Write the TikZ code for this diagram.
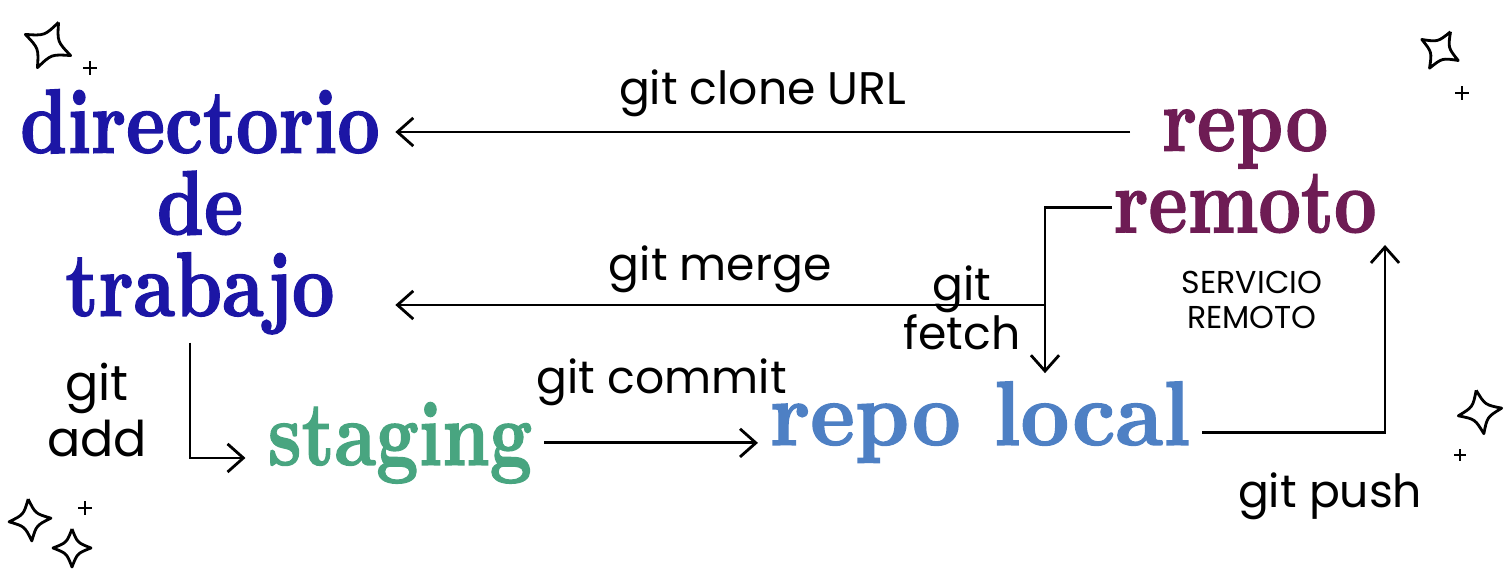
\documentclass[tikz,border=0pt]{standalone}
\usepackage{fontspec}
\newfontfamily\handfont{Poppins}
\newfontfamily\brushfont{lmroman10-bold.otf}[FakeBold=1.5]
\usetikzlibrary{arrows.meta,positioning}

\definecolor{dirblue}{RGB}{28,22,165}
\definecolor{remplum}{RGB}{110,28,84}
\definecolor{stggreen}{RGB}{72,165,128}
\definecolor{locblue}{RGB}{78,128,196}
\newcommand{\narrow}[2][.81]{\scalebox{#1}[1]{#2}}

\begin{document}
\begin{tikzpicture}[
  >={Straight Barb[length=4.5pt,width=8pt]},
  line width=0.8pt,
  brush/.style={font=\brushfont\fontsize{26}{23.2}\selectfont, inner sep=0pt, align=center},
  hand/.style={font=\handfont\fontsize{13}{15}\selectfont, inner sep=1pt, align=center},
  small/.style={font=\handfont\fontsize{9}{10}\selectfont, inner sep=1pt, align=center},
  sparkle/.pic={\draw[line join=round] (0,1) .. controls (0.28,0.28) .. (1,0)
      .. controls (0.28,-0.28) .. (0,-1) .. controls (-0.28,-0.28) .. (-1,0)
      .. controls (-0.28,0.28) .. (0,1);},
  twinkle/.pic={\draw[line width=0.6pt] (-1,0) -- (1,0) (0,-1) -- (0,1);}
]
\useasboundingbox (0,0) rectangle (15.05,5.78);

% Nodes
\node[brush, text=dirblue, anchor=north] (dir) at (2.0,4.90)
  {\narrow{directorio}\\\narrow{de}\\\narrow{trabajo}};
\node[brush, text=remplum, anchor=north] (rem) at (12.45,4.70)
  {\narrow{repo}\\\narrow{remoto}};

\node[brush, text=stggreen, anchor=base] (stg)   at (4.0,1.13) {\narrow{staging}};
\node[brush, text=locblue,  anchor=base] (local) at (9.8,1.33) {\narrow[.93]{repo local}};

\coordinate (cs) at ([shift={(0.18,-0.24)}]rem.north west);
\coordinate (fk) at (10.45,2.73);
\coordinate (pk) at (13.85,3.33);

% Arrows + labels
\draw[->] (cs) -- ([xshift=4pt]cs -| dir.east) node[hand, midway, above=3pt] {git clone URL};

\draw[->] ([yshift=0.27cm]rem.south west) -| (fk) -- ([yshift=2pt]fk |- local.north);
\draw[->] (fk) -- ([xshift=4pt]fk -| dir.east) node[hand, midway, above=2pt] {git merge};
\node[hand, font=\handfont\fontsize{13}{14}\selectfont] (fetch) at (9.62,2.70) {git\\fetch};

\draw[->] ([xshift=-0.1cm,yshift=-2pt]dir.south) |- ([xshift=-6pt,yshift=2pt]stg.base west);
\node[hand, font=\handfont\fontsize{14}{16}\selectfont] (add) at (0.97,1.68) {git\\add};

\draw[->] ([xshift=3pt]stg.east) -- ([xshift=-3pt]stg.east -| local.west)
  node[hand, pos=.55, above=9pt] {git commit};

\draw[->] ([xshift=3pt,yshift=-3pt]local.east) -| (pk)
  node[hand, pos=.35, below=10pt] {git push};
\node[small] (serv) at (12.52,2.78) {SERVICIO\\REMOTO};

% sparkles
\pic[scale=0.25, rotate=-25] at (0.48,5.33) {sparkle};
\pic[scale=0.07] at (0.90,5.10) {twinkle};
\pic[scale=0.21, rotate=-30] at (14.40,5.28) {sparkle};
\pic[scale=0.07] at (14.62,4.85) {twinkle};
\pic[scale=0.22, rotate=10] at (14.80,1.66) {sparkle};
\pic[scale=0.06] at (14.60,1.23) {twinkle};
\pic[scale=0.21, rotate=5] at (0.30,0.58) {sparkle};
\pic[scale=0.07] at (0.85,0.70) {twinkle};
\pic[scale=0.19] at (0.72,0.30) {sparkle};
\end{tikzpicture}
\end{document}
